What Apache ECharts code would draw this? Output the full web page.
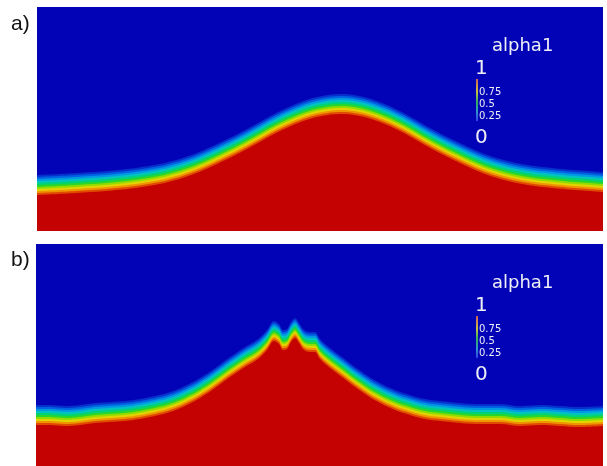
<!DOCTYPE html>
<html>
<head>
<meta charset="utf-8">
<script src="https://cdn.jsdelivr.net/npm/echarts@6/dist/echarts.min.js"></script>
<style>
html,body{margin:0;padding:0;background:#fff;}
#main{width:607px;height:466px;}
</style>
</head>
<body>
<div id="main"></div>
<script>
/* interface (alpha1 = 0.5), x / height in pixels of each panel */
var xA = [0, 40, 80, 120, 150, 180, 210, 240, 265, 285, 303, 320, 340, 365, 395, 425, 455, 485, 520, 566];
var hA = [46, 48, 51, 56.5, 64.5, 77, 92, 108.5, 119.5, 125, 127, 125.5, 120, 109, 92, 77, 64.5, 57, 52.5, 49];

var xB = [0, 14, 29, 44, 59, 74, 89, 104, 119, 134, 149, 164, 179, 194, 209, 222, 231, 238, 243, 247, 251, 255, 259, 263, 268, 274, 279, 284, 294, 306, 319, 332, 344, 359, 374, 389, 404, 424, 444, 464, 484, 504, 524, 544, 567];
var hB = [51, 51, 50, 51, 53, 54, 55, 57, 60, 64, 70, 78, 88, 99, 109, 117, 126, 135, 132, 126, 127, 134, 138, 133, 126, 124, 124, 117, 108, 99, 89, 80, 73, 66, 61, 57, 55, 53, 52, 52, 50, 51, 50, 49, 50];

/* colour legend */
var legendTitle = 'alpha1';
var legendMax = '1';
var legendMin = '0';
var legendTicks = ['0.75', '0.5', '0.25'];

/* alpha1 colour map, from blue (air) side to red (water) side */
var bandOffset = [10, 8, 6, 4, 2, 0, -2, -4, -6, -8, -10];
var bandColor = ['#0630cc', '#0064e2', '#009ae2', '#00c4c0', '#00d27a', '#28d62c', '#92dc00', '#e2d400', '#f09400', '#e04a00', '#c40202'];

var blue = '#0202b6';

var chart = echarts.init(document.getElementById('main'));

function panelSeries(xs, hs, idx){
    var out = [];
    for(var k = 0; k < bandOffset.length; k++){
        var d = [];
        for(var i = 0; i < xs.length; i++){
            d.push([xs[i], hs[i] + bandOffset[k]]);
        }
        out.push({
            type: 'line',
            xAxisIndex: idx,
            yAxisIndex: idx,
            data: d,
            smooth: 0.35,
            symbol: 'none',
            silent: true,
            lineStyle: {width: 0},
            areaStyle: {color: bandColor[k], opacity: 1, origin: 'start'},
            z: 2 + k
        });
    }
    return out;
}

function legend(top){
    var g = [];
    var white = '#eeeef6';
    g.push({type: 'text', left: 492, top: top - 12, style: {text: legendTitle, fill: white, font: '18px "DejaVu Sans"'}});
    g.push({type: 'text', left: 475, top: top + 10, style: {text: legendMax, fill: white, font: '20px "DejaVu Sans"'}});
    g.push({type: 'rect', shape: {x: 476, y: top + 30, width: 2, height: 42},
        style: {fill: new echarts.graphic.LinearGradient(0, 0, 0, 1, [
            {offset: 0, color: '#d06060'}, {offset: 0.3, color: '#c8c040'},
            {offset: 0.55, color: '#30b060'}, {offset: 0.8, color: '#3090d0'}, {offset: 1, color: '#3040e0'}])}});
    for(var i = 0; i < legendTicks.length; i++){
        g.push({type: 'text', left: 479, top: top + 38 + i * 12, style: {text: legendTicks[i], fill: white, font: '10px "DejaVu Sans"'}});
    }
    g.push({type: 'text', left: 475, top: top + 79, style: {text: legendMin, fill: white, font: '20px "DejaVu Sans"'}});
    return g;
}

var graphics = [
    {type: 'text', left: 11, top: 14, style: {text: 'a)', fill: '#111', font: '21px "Liberation Sans"'}},
    {type: 'text', left: 11, top: 250, style: {text: 'b)', fill: '#111', font: '21px "Liberation Sans"'}}
].concat(legend(49)).concat(legend(286));

var option = {
    animation: false,
    backgroundColor: '#fff',
    grid: [
        {left: 37, top: 7, width: 566, height: 224, show: true, backgroundColor: blue, borderWidth: 0},
        {left: 36, top: 244, width: 567, height: 222, show: true, backgroundColor: blue, borderWidth: 0}
    ],
    xAxis: [
        {type: 'value', gridIndex: 0, min: 0, max: 566, show: false},
        {type: 'value', gridIndex: 1, min: 0, max: 567, show: false}
    ],
    yAxis: [
        {type: 'value', gridIndex: 0, min: 0, max: 224, show: false},
        {type: 'value', gridIndex: 1, min: 0, max: 222, show: false}
    ],
    series: panelSeries(xA, hA, 0).concat(panelSeries(xB, hB, 1)),
    graphic: graphics
};
chart.setOption(option);
</script>
</body>
</html>
